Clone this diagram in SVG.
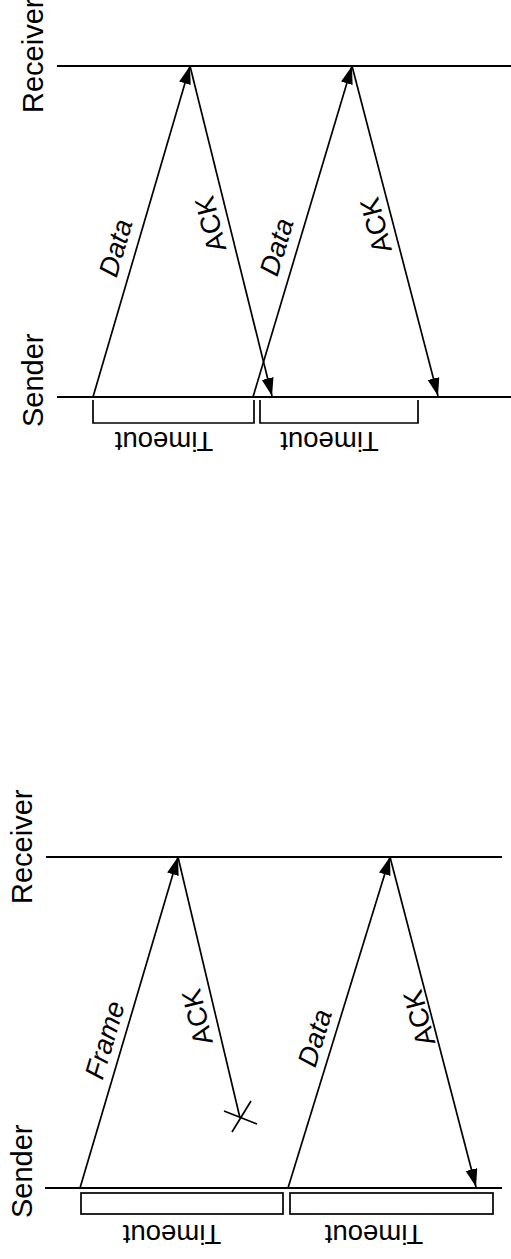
<svg xmlns="http://www.w3.org/2000/svg" width="511" height="1259" viewBox="0 0 511 1259">
  <style>
    .axis { stroke: #000; stroke-width: 2; fill: none; }
    .msg { stroke: #000; stroke-width: 1.7; fill: none; }
    .msg-arrow { stroke: #000; stroke-width: 1.7; fill: none; marker-end: url(#head); }
    .timer { stroke: #000; stroke-width: 1.7; fill: none; }
    .actor { font-family: "Liberation Sans", Arial, sans-serif; font-size: 29px; fill: #000; }
    .lbl { font-family: "Liberation Sans", Arial, sans-serif; font-size: 27.5px; fill: #000; text-anchor: middle; }
    .it { font-style: italic; }
  </style>
  <defs>
    <marker id="head" markerUnits="userSpaceOnUse" markerWidth="20" markerHeight="14" refX="18" refY="6" orient="auto">
      <path d="M0,0 L18,6 L0,12 Z" fill="#000"/>
    </marker>
  </defs>

  <rect width="511" height="1259" fill="#fff"/>

  <!-- Upper scenario: data and ACK exchanges -->
  <g id="top-receiver">
    <line class="axis" x1="57" y1="66" x2="511" y2="66"/>
    <text class="actor" transform="translate(43,113) rotate(-90)">Receiver</text>
  </g>
  <g id="top-sender">
    <line class="axis" x1="57" y1="397" x2="511" y2="397"/>
    <text class="actor" transform="translate(43,427) rotate(-90)">Sender</text>
  </g>
  <g id="top-timeout-1">
    <polyline class="timer" points="93,400 93,423 254,423 254,400"/>
    <text class="lbl" transform="translate(164,432) rotate(180)">Timeout</text>
  </g>
  <g id="top-timeout-2">
    <polyline class="timer" points="260,400 260,423 418,423 418,400"/>
    <text class="lbl" transform="translate(329.5,432) rotate(180)">Timeout</text>
  </g>

  <g id="top-connectors">
    <line class="msg-arrow" x1="93" y1="397" x2="190" y2="66"/>
    <line class="msg-arrow" x1="190" y1="66" x2="272" y2="396"/>
    <line class="msg-arrow" x1="253" y1="397" x2="352" y2="66"/>
    <line class="msg-arrow" x1="352" y1="66" x2="438" y2="396"/>
    <text class="lbl it" transform="translate(124.6,250.5) rotate(-73.7)">Data</text>
    <text class="lbl" transform="translate(219.7,221.8) rotate(-104)">ACK</text>
    <text class="lbl it" transform="translate(285.6,249.6) rotate(-73.3)">Data</text>
    <text class="lbl" transform="translate(385,223) rotate(-104.6)">ACK</text>
  </g>

  <!-- Lower scenario: lost ACK and retransmission -->
  <g id="bottom-receiver">
    <line class="axis" x1="46" y1="857" x2="502" y2="857"/>
    <text class="actor" transform="translate(32,904) rotate(-90)">Receiver</text>
  </g>
  <g id="bottom-sender">
    <line class="axis" x1="45" y1="1188" x2="502" y2="1188"/>
    <text class="actor" transform="translate(32,1218) rotate(-90)">Sender</text>
  </g>
  <g id="bottom-timeout-1">
    <rect class="timer" x="81" y="1193" width="202" height="21"/>
    <text class="lbl" transform="translate(172,1225) rotate(180)">Timeout</text>
  </g>
  <g id="bottom-timeout-2">
    <rect class="timer" x="290" y="1193" width="203" height="21"/>
    <text class="lbl" transform="translate(374,1225) rotate(180)">Timeout</text>
  </g>

  <g id="bottom-connectors">
    <line class="msg-arrow" x1="80" y1="1188" x2="178" y2="857"/>
    <line class="msg" x1="178" y1="857" x2="240" y2="1118"/>
    <line class="msg" x1="224" y1="1111" x2="257" y2="1124"/>
    <line class="msg" x1="251" y1="1101" x2="232" y2="1132"/>
    <line class="msg-arrow" x1="288" y1="1188" x2="390" y2="857"/>
    <line class="msg-arrow" x1="390" y1="857" x2="476" y2="1187"/>
    <text class="lbl it" transform="translate(113.8,1042.6) rotate(-73.5)">Frame</text>
    <text class="lbl" transform="translate(206.4,1014.9) rotate(-103.4)">ACK</text>
    <text class="lbl it" transform="translate(323.8,1040.7) rotate(-72.9)">Data</text>
    <text class="lbl" transform="translate(428.3,1015.7) rotate(-104.6)">ACK</text>
  </g>
</svg>
